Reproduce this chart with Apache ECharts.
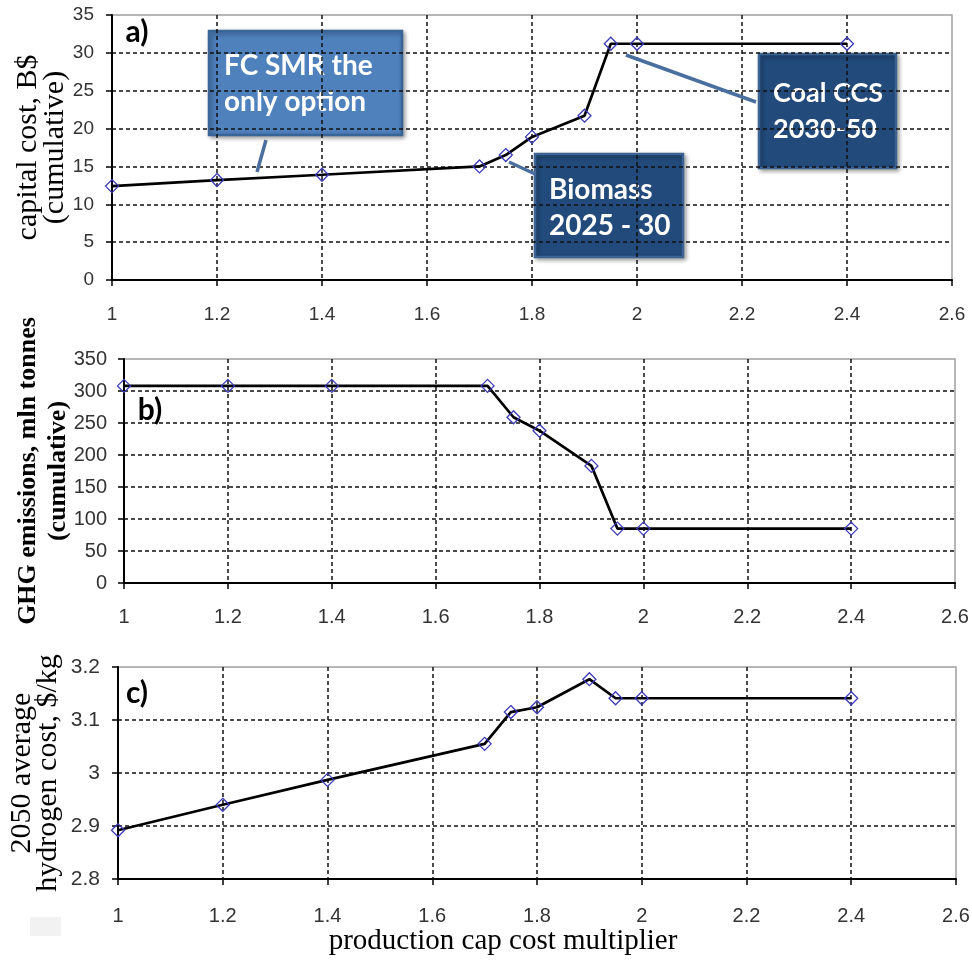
<!DOCTYPE html>
<html>
<head>
<meta charset="utf-8">
<script src="https://cdn.jsdelivr.net/npm/echarts@6/dist/echarts.min.js"></script>
<style>
  html, body { margin: 0; padding: 0; background: #fff; }
  #main { width: 972px; height: 961px; }
</style>
</head>
<body>
<div id="main"></div>
<script>
    // 数据
    var multiplier = [1, 1.2, 1.4, 1.7, 1.75, 1.8, 1.9, 1.95, 2, 2.4];
    var capitalCost = [12.4, 13.2, 13.9, 15.0, 16.5, 18.9, 21.7, 31.2, 31.2, 31.2];
    var ghgEmissions = [308, 308, 308, 308, 259, 238, 183, 85, 85, 85];
    var h2Cost = [2.892, 2.940, 2.987, 3.055, 3.115, 3.124, 3.177, 3.141, 3.141, 3.141];

    var myChart = echarts.init(document.getElementById('main'));

    function pairs(ys) {
        return multiplier.map(function (x, i) { return [x, ys[i]]; });
    }

    var serif = '"Liberation Serif", "Times New Roman", serif';
    var sans = '"Liberation Sans", Arial, sans-serif';
    var boxFont = 'Lato, "Open Sans", sans-serif';

    // 每个面板共用的x轴
    function xAxisCfg(gridIndex, fontSize, margin) {
        return {
            type: 'value', gridIndex: gridIndex,
            min: 1, max: 2.6, interval: 0.2,
            axisLine: { show: true, onZero: false, lineStyle: { color: '#000', width: 2 } },
            axisTick: { show: true, length: 6, lineStyle: { color: '#000', width: 1.5 } },
            axisLabel: { color: '#333', fontFamily: sans, fontSize: fontSize, margin: margin },
            splitLine: {
                show: true, showMinLine: false, showMaxLine: false,
                lineStyle: { color: '#111', type: [4, 3], width: 1.5 }
            }
        };
    }
    function yAxisCfg(gridIndex, min, max, interval, fontSize, labelMargin, name, nameStyle, nameGap) {
        return {
            type: 'value', gridIndex: gridIndex,
            min: min, max: max, interval: interval,
            name: name, nameLocation: 'middle', nameGap: nameGap, nameMoveOverlap: false,
            nameTextStyle: nameStyle,
            axisLine: { show: true, lineStyle: { color: '#000', width: 2 } },
            axisTick: { show: true, length: 6, lineStyle: { color: '#000', width: 1.5 } },
            axisLabel: { color: '#333', fontFamily: sans, fontSize: fontSize, margin: labelMargin },
            splitLine: {
                show: true, showMinLine: false, showMaxLine: false,
                lineStyle: { color: '#111', type: [4, 3], width: 1.5 }
            }
        };
    }
    function lineSeries(idx, ys) {
        return {
            type: 'line', xAxisIndex: idx, yAxisIndex: idx,
            data: pairs(ys),
            symbol: 'diamond', symbolSize: 13,
            lineStyle: { color: '#000', width: 2.7 },
            itemStyle: { color: 'rgba(255,255,255,0)', borderColor: '#3a3ab8', borderWidth: 1.3 },
            z: 3
        };
    }

    // 标注框
    function box(x, y, w, h, fill, stroke, lines, tx, ty, fs) {
        return {
            type: 'group', z: 100,
            children: [
                {
                    type: 'rect', shape: { x: x, y: y, width: w, height: h },
                    style: { fill: fill, stroke: stroke, lineWidth: 2.5,
                        shadowBlur: 4, shadowColor: 'rgba(0,0,0,0.35)', shadowOffsetX: 2, shadowOffsetY: 2 }
                },
                {
                    type: 'text',
                    style: { text: lines, x: tx, y: ty, fill: '#fff', fontFamily: boxFont,
                        fontWeight: 'bold', fontSize: fs, lineHeight: 36, align: 'left', verticalAlign: 'middle' }
                }
            ]
        };
    }
    function connector(x1, y1, x2, y2) {
        return { type: 'line', z: 99, shape: { x1: x1, y1: y1, x2: x2, y2: y2 },
            style: { stroke: '#4a6f9e', lineWidth: 3.5 } };
    }
    function panelLabel(text, x, y) {
        return { type: 'text', z: 50, style: { text: text, x: x, y: y, fill: '#000', fontFamily: boxFont,
            fontWeight: 'bold', fontSize: 30, align: 'center', verticalAlign: 'middle' } };
    }

    var option = {
        backgroundColor: '#fff',
        animation: false,
        grid: [
            { left: 112, top: 15, width: 840, height: 265, outerBoundsMode: 'none',
              show: true, borderColor: '#a0a0a0', borderWidth: 1.5 },
            { left: 124, top: 359, width: 831, height: 224, outerBoundsMode: 'none',
              show: true, borderColor: '#a0a0a0', borderWidth: 1.5 },
            { left: 118, top: 667, width: 838, height: 212, outerBoundsMode: 'none',
              show: true, borderColor: '#a0a0a0', borderWidth: 1.5 }
        ],
        xAxis: [
            xAxisCfg(0, 19, 25),
            xAxisCfg(1, 20, 24),
            Object.assign(xAxisCfg(2, 20, 27), {
                name: 'production cap cost multiplier', nameLocation: 'middle', nameGap: 48,
                nameMoveOverlap: false,
                nameTextStyle: { fontFamily: serif, fontSize: 29, color: '#000', padding: [0, 68, 0, 0] }
            })
        ],
        yAxis: [
            yAxisCfg(0, 0, 35, 5, 19, 18, 'capital cost, B$\n(cumulative)',
                { fontFamily: serif, fontSize: 30, lineHeight: 27, color: '#000' }, 43),
            yAxisCfg(1, 0, 350, 50, 20, 17, 'GHG emissions, mln tonnes\n(cumulative)',
                { fontFamily: serif, fontWeight: 'bold', fontSize: 26, lineHeight: 30, color: '#000' }, 51),
            yAxisCfg(2, 2.8, 3.2, 0.1, 21, 18, '2050 average\nhydrogen cost, $/kg',
                { fontFamily: serif, fontSize: 30, lineHeight: 26, color: '#000' }, 57)
        ],
        series: [
            lineSeries(0, capitalCost),
            lineSeries(1, ghgEmissions),
            lineSeries(2, h2Cost)
        ],
        graphic: [
            panelLabel('a)', 137, 32),
            panelLabel('b)', 150, 410),
            panelLabel('c)', 137, 693),
            connector(266, 140, 257, 172),
            connector(509, 162, 535, 174),
            connector(626, 55, 756, 102),
            box(209, 31, 193, 104, '#4f81bd', '#3b6597', 'FC SMR the\nonly option', 224, 84, 28),
            box(535, 154, 148, 103, '#224a7b', '#3d6393', 'Biomass\n2025 - 30', 549, 208, 28),
            box(759, 54, 137, 114, '#224a7b', '#3d6393', 'Coal CCS\n2030-50', 773, 111, 27),
            { type: 'rect', z: 1, shape: { x: 30, y: 917, width: 31, height: 19 }, style: { fill: '#f2f2f2' } }
        ]
    };

    myChart.setOption(option);
    window.addEventListener('resize', function () {
        myChart.resize();
    });
</script>
</body>
</html>
